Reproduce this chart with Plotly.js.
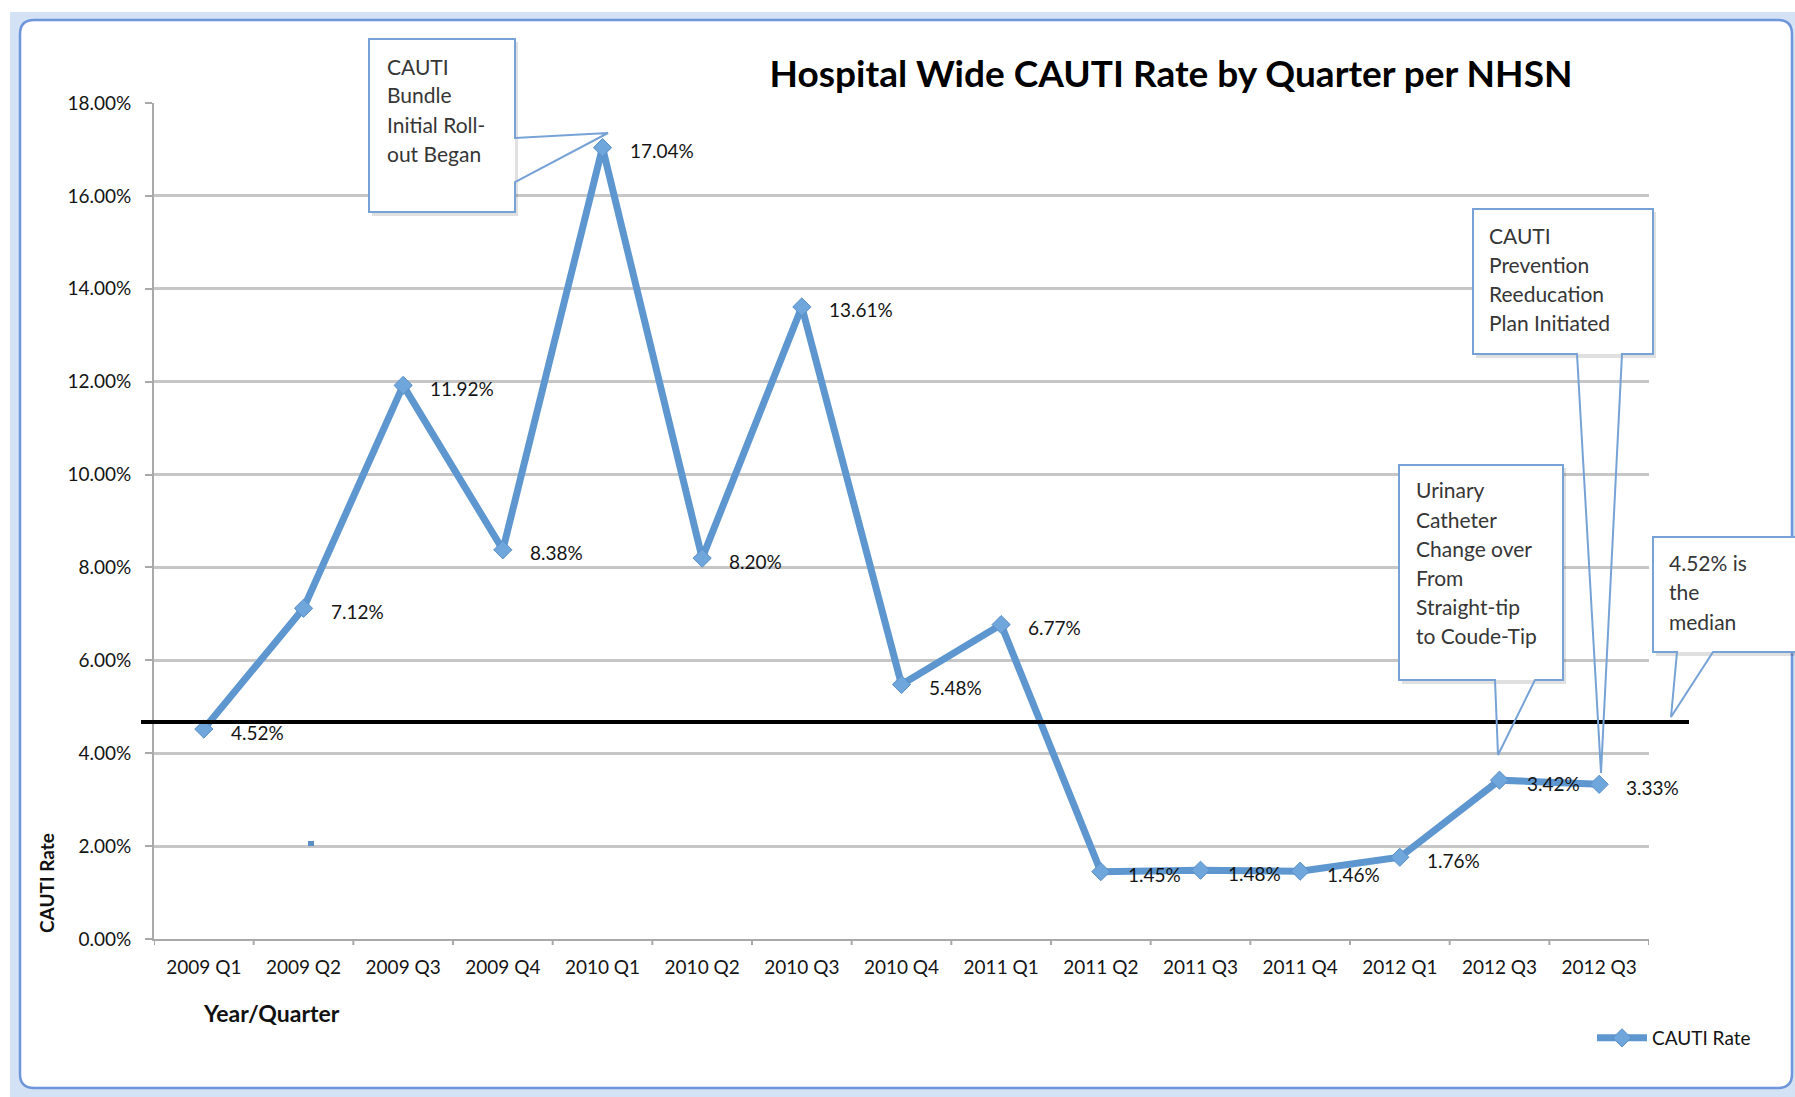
<!DOCTYPE html>
<html>
<head>
<meta charset="utf-8">
<script src="https://cdn.plot.ly/plotly-3.0.1.min.js"></script>
<style>
  html, body { margin: 0; padding: 0; background: #ffffff; }
  #chart { width: 1795px; height: 1097px; }
</style>
</head>
<body>
<div id="chart"></div>
<script>
// ---------------- DATA ----------------
const categories = ["2009 Q1","2009 Q2","2009 Q3","2009 Q4","2010 Q1","2010 Q2","2010 Q3","2010 Q4",
                    "2011 Q1","2011 Q2","2011 Q3","2011 Q4","2012 Q1","2012 Q3","2012 Q3"];
const cautiRate = [4.52, 7.12, 11.92, 8.38, 17.04, 8.20, 13.61, 5.48, 6.77, 1.45, 1.48, 1.46, 1.76, 3.42, 3.33];
const yTickValues = [0, 2, 4, 6, 8, 10, 12, 14, 16, 18];
const yTickLabels = ["0.00%","2.00%","4.00%","6.00%","8.00%","10.00%","12.00%","14.00%","16.00%","18.00%"];
const medianLineLevel = 4.67;   // level at which the black "median" line is drawn
const seriesName = "CAUTI Rate";
const chartTitle = "Hospital Wide CAUTI Rate by Quarter per NHSN";
const xTitle = "Year/Quarter";
const yTitle = "CAUTI Rate";
const calloutBundle = ["CAUTI", "Bundle", "Initial Roll-", "out Began"];
const calloutPrevention = ["CAUTI", "Prevention", "Reeducation", "Plan Initiated"];
const calloutCatheter = ["Urinary", "Catheter", "Change over", "From", "Straight-tip", "to Coude-Tip"];
const calloutMedian = ["4.52% is", "the", "median"];

// ---------------- LAYOUT GEOMETRY ----------------
const W = 1795, H = 1097;
const L = 154, R = 1649, T = 103, B = 939;
const PW = R - L, PH = B - T;
const X = px => (px - L) / PW;      // pixel -> paper
const Y = py => (B - py) / PH;

const lineColor = "#5e97cf";
const boxColor = "#76a2d6";
const textDark = "#141414";
const calloutText = "#363636";
const FONT = "Lato, 'Open Sans', sans-serif";

const xIndex = categories.map((c, i) => i);

const shapes = [];
const annotations = [];

// outer spreadsheet band + rounded chart frame
shapes.push({type: "rect", xref: "paper", yref: "paper", layer: "below",
  x0: X(10), x1: X(1800), y0: Y(12), y1: Y(1100), fillcolor: "#d3e2f5", line: {width: 0}});
(function () {
  const x0 = 20, y0 = 20, x1 = 1792, y1 = 1088, r = 14;
  const p = `M${X(x0 + r)},${Y(y0)} L${X(x1 - r)},${Y(y0)} Q${X(x1)},${Y(y0)} ${X(x1)},${Y(y0 + r)} ` +
            `L${X(x1)},${Y(y1 - r)} Q${X(x1)},${Y(y1)} ${X(x1 - r)},${Y(y1)} ` +
            `L${X(x0 + r)},${Y(y1)} Q${X(x0)},${Y(y1)} ${X(x0)},${Y(y1 - r)} ` +
            `L${X(x0)},${Y(y0 + r)} Q${X(x0)},${Y(y0)} ${X(x0 + r)},${Y(y0)} Z`;
  shapes.push({type: "path", xref: "paper", yref: "paper", layer: "below", path: p,
    fillcolor: "#ffffff", line: {color: "#6f95da", width: 2.5}});
})();

// category boundary tick marks on the x axis
for (let k = 0; k <= categories.length; k++) {
  shapes.push({type: "line", xref: "x", yref: "paper", x0: k - 0.5, x1: k - 0.5,
    y0: 0, y1: -6 / PH, line: {color: "#a9a9a9", width: 2}, layer: "below"});
}

// median line
shapes.push({type: "line", xref: "paper", yref: "y", x0: X(141), x1: X(1689),
  y0: medianLineLevel, y1: medianLineLevel, line: {color: "#000000", width: 4}});

// stray small mark
shapes.push({type: "rect", xref: "paper", yref: "paper", x0: X(308), x1: X(314), y0: Y(841), y1: Y(846),
  fillcolor: "#5b8fc8", line: {width: 0}});

// callouts
function callout(rect, pointer, lines, textX, textY0, step) {
  const [x0, y0, x1, y1] = rect;
  shapes.push({type: "rect", xref: "paper", yref: "paper", x0: X(x0 + 3), x1: X(x1 + 3), y0: Y(y0 + 3), y1: Y(y1 + 4),
    fillcolor: "rgba(0,0,0,0.12)", line: {width: 0}});
  shapes.push({type: "rect", xref: "paper", yref: "paper", x0: X(x0), x1: X(x1), y0: Y(y0), y1: Y(y1),
    fillcolor: "#ffffff", line: {width: 0}});
  const pts = pointer.map(p => `${X(p[0])},${Y(p[1])}`);
  shapes.push({type: "path", xref: "paper", yref: "paper", path: "M" + pts.join(" L") + " Z",
    fillcolor: "rgba(0,0,0,0)", line: {color: boxColor, width: 2}});
  lines.forEach((t, i) => {
    annotations.push({xref: "paper", yref: "paper", x: X(textX), y: Y(textY0 + i * step),
      xanchor: "left", yanchor: "middle", showarrow: false, text: t,
      font: {family: FONT, size: 21, color: calloutText}});
  });
}
callout([369, 39, 515, 212],
  [[369, 39], [515, 39], [515, 138], [608, 133], [515, 182], [515, 212], [369, 212]],
  calloutBundle, 385, 66, 29);
callout([1473, 209, 1653, 354],
  [[1473, 209], [1653, 209], [1653, 354], [1622, 354], [1601, 773], [1577, 354], [1473, 354]],
  calloutPrevention, 1487, 235, 29);
callout([1399, 465, 1563, 680],
  [[1399, 465], [1563, 465], [1563, 680], [1535, 680], [1498, 755], [1495, 680], [1399, 680]],
  calloutCatheter, 1414, 490, 29);
callout([1653, 537, 1810, 652],
  [[1653, 537], [1810, 537], [1810, 652], [1713, 652], [1671, 717], [1677, 652], [1653, 652]],
  calloutMedian, 1667, 562, 29.5);

// data labels
cautiRate.forEach((v, i) => {
  annotations.push({xref: "x", yref: "y", x: xIndex[i], y: v, xanchor: "left", yanchor: "middle",
    xshift: 25, yshift: -3, showarrow: false, text: v.toFixed(2) + "%",
    font: {family: FONT, size: 19, color: textDark}});
});

// axis titles
annotations.push({xref: "paper", yref: "paper", x: X(271), y: Y(1013), xanchor: "center", yanchor: "middle",
  showarrow: false, text: "<b>" + xTitle + "</b>", font: {family: FONT, size: 23, color: "#111"}});
annotations.push({xref: "paper", yref: "paper", x: X(46), y: Y(883), xanchor: "center", yanchor: "middle",
  showarrow: false, textangle: -90, text: "<b>" + yTitle + "</b>", font: {family: FONT, size: 19, color: "#111"}});

const trace = {
  type: "scatter", mode: "lines+markers", name: seriesName,
  x: xIndex, y: cautiRate,
  line: {color: lineColor, width: 7},
  marker: {symbol: "diamond", size: 14, color: "#6fa6db", line: {color: "#5a8fc6", width: 1}},
  cliponaxis: false, hoverinfo: "skip"
};

const layout = {
  width: W, height: H,
  margin: {l: L, r: W - R, t: T, b: H - B, pad: 0},
  paper_bgcolor: "#ffffff", plot_bgcolor: "rgba(0,0,0,0)",
  font: {family: FONT, color: textDark},
  title: {text: "<b>" + chartTitle + "</b>", xref: "container", yref: "container",
    x: 1171 / W, y: 1 - 74 / H, xanchor: "center", yanchor: "middle",
    font: {family: FONT, size: 37, color: "#000"}},
  xaxis: {range: [-0.5, categories.length - 0.5], tickvals: xIndex, ticktext: categories,
    ticks: "", showgrid: false, zeroline: false, showline: true, linecolor: "#a9a9a9", linewidth: 2,
    tickfont: {family: FONT, size: 19, color: textDark}, ticklabelstandoff: 10, fixedrange: true},
  yaxis: {range: [0, 18], tickvals: yTickValues, ticktext: yTickLabels,
    ticks: "outside", ticklen: 7, tickwidth: 2, tickcolor: "#a9a9a9",
    showgrid: true, gridcolor: "#c6c6c6", gridwidth: 3, zeroline: false,
    showline: true, linecolor: "#a9a9a9", linewidth: 2,
    tickfont: {family: FONT, size: 19, color: textDark}, ticklabelstandoff: 10, fixedrange: true},
  showlegend: true,
  legend: {x: X(1592), y: Y(1038), xanchor: "left", yanchor: "middle", bgcolor: "rgba(0,0,0,0)",
    borderwidth: 0, itemwidth: 50, font: {family: FONT, size: 19, color: textDark}},
  shapes: shapes,
  annotations: annotations
};

Plotly.newPlot("chart", [trace], layout, {staticPlot: true, displayModeBar: false});
</script>
</body>
</html>
